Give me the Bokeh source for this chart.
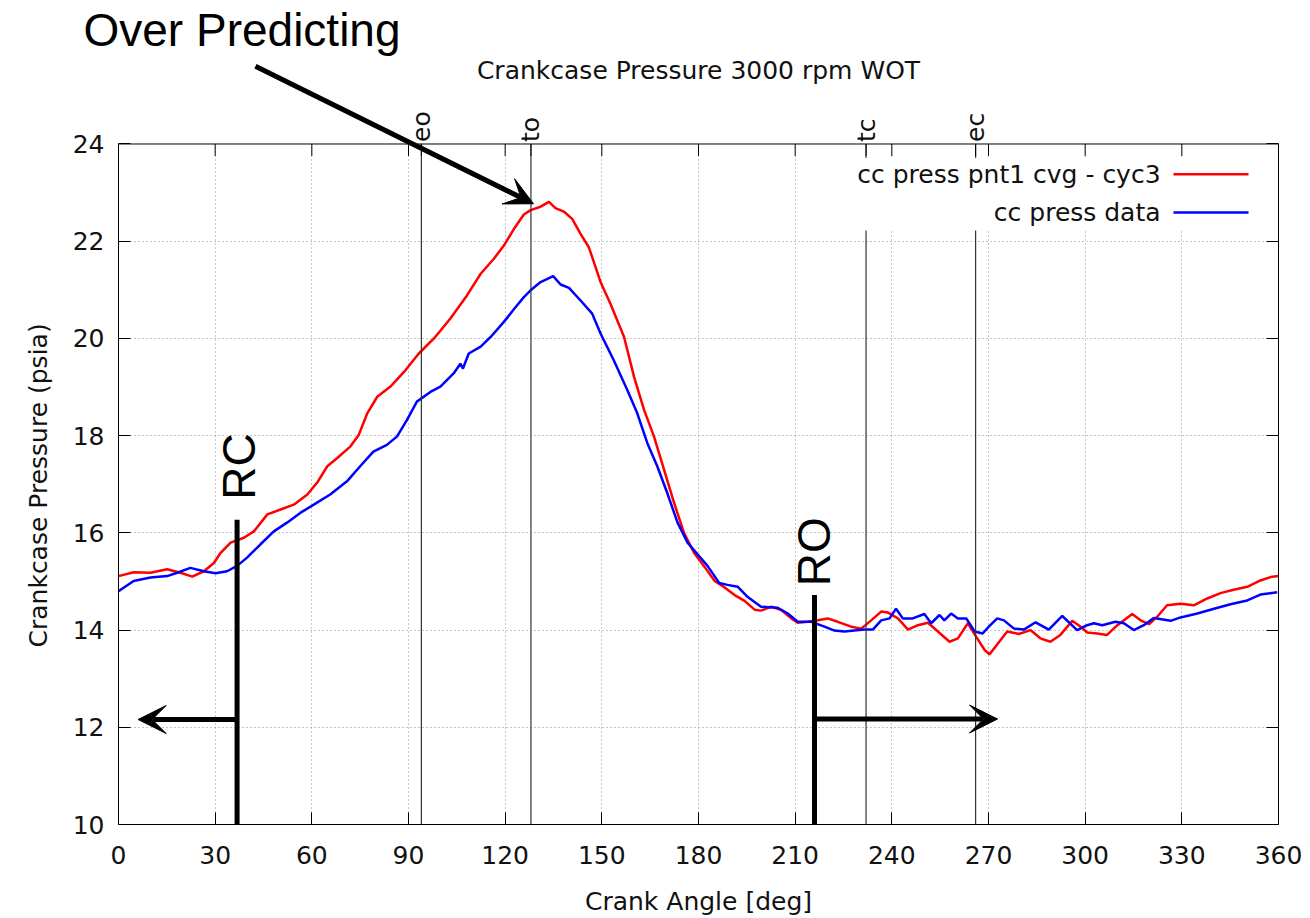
import math
from bokeh.plotting import figure
from bokeh.models import (Span, Label, Arrow, VeeHead, BoxAnnotation, LinearAxis,
                          FixedTicker, Range1d, Title)
from bokeh.core.properties import value
from bokeh.embed import file_html
from bokeh.resources import INLINE

# ---------------- data ----------------
model_angle = [0, 4.7, 9.9, 15.1, 19.2, 22.9, 26.5, 29.6, 31.7, 34.8,
               38.9, 42, 46.2, 50.3, 54.4, 58.6, 61.6, 64.8, 67.9, 72,
               74.6, 77.2, 80.3, 84.4, 88.6, 93.2, 97.9, 103, 108.2, 112.4,
               116.5, 119.6, 122.7, 125.8, 127.9, 131, 133.6, 135.6, 138.2, 140.8,
               143.4, 146, 148.6, 149.6, 152.7, 156.9, 160, 163.1, 166.2, 169.3,
               172.4, 175.5, 178.6, 181.9, 185, 188, 191.2, 194.3, 197.4, 199.4,
               202.6, 205.7, 208.8, 210.8, 213.9, 217, 220.1, 223.2, 227.4, 230.5,
               233.6, 236.7, 238.8, 241.9, 245, 248.1, 251.2, 254.3, 257.9, 260.5,
               263.6, 266.2, 268.8, 270.3, 272.2, 275.8, 279.4, 283, 286.1, 289.2,
               292.3, 296, 298.6, 300.6, 303.7, 306.8, 310, 314.6, 317.2, 319.8,
               322.3, 325.4, 329.6, 333.7, 337.9, 342, 346.1, 350.3, 354.4, 357.5,
               360]
model_press = [15.11, 15.19, 15.18, 15.25, 15.18, 15.10, 15.21, 15.38, 15.59, 15.80,
               15.90, 16.03, 16.38, 16.48, 16.58, 16.79, 17.03, 17.37, 17.54, 17.78,
               18.02, 18.46, 18.80, 19.01, 19.31, 19.69, 20.00, 20.41, 20.89, 21.33,
               21.64, 21.91, 22.25, 22.55, 22.64, 22.71, 22.81, 22.68, 22.61, 22.46,
               22.15, 21.87, 21.36, 21.16, 20.71, 20.03, 19.21, 18.53, 17.98, 17.30,
               16.62, 16.00, 15.59, 15.30, 15.01, 14.88, 14.72, 14.60, 14.42, 14.40,
               14.48, 14.41, 14.24, 14.15, 14.17, 14.20, 14.24, 14.17, 14.07, 14.03,
               14.20, 14.38, 14.36, 14.24, 14.01, 14.10, 14.15, 13.97, 13.76, 13.83,
               14.14, 13.86, 13.59, 13.50, 13.66, 13.97, 13.92, 14.00, 13.83, 13.76,
               13.90, 14.19, 14.07, 13.95, 13.93, 13.90, 14.10, 14.33, 14.20, 14.12,
               14.27, 14.51, 14.54, 14.51, 14.65, 14.76, 14.83, 14.89, 15.02, 15.09,
               15.11]

data_angle = [0, 4.7, 9.9, 15.1, 18.2, 22.3, 26.5, 30.1, 33.7, 36.8,
              39.9, 44, 48.2, 52.3, 56.4, 60.6, 65.7, 70.9, 75, 79.1,
              83.3, 86.4, 89.5, 92.6, 96.8, 99.9, 104, 106.1, 106.9, 108.7,
              112.4, 115.5, 119.6, 122.7, 125.8, 127.9, 131, 134.9, 137.2, 139.8,
              143.4, 147, 149.6, 153.7, 157.9, 161, 164.1, 167.2, 170.3, 173.5,
              176.6, 179.7, 182.8, 186.4, 189, 192.2, 195.3, 199.4, 204.6, 207.7,
              210.8, 215, 219.1, 222.2, 225.3, 228.4, 231.5, 234.1, 236.7, 239.3,
              241.3, 243.4, 246.5, 250.1, 252.2, 254.8, 256.3, 258.4, 260.5, 263.1,
              265.7, 268.2, 270.1, 272.7, 274.8, 277.9, 281, 284.6, 288.7, 292.9,
              297.5, 300.6, 302.7, 305.3, 309.4, 312, 315.1, 318.2, 321.3, 326.5,
              329.6, 334.8, 340, 345.1, 350.3, 354.4, 359.6]
data_press = [14.80, 15.01, 15.08, 15.11, 15.18, 15.28, 15.21, 15.17, 15.21, 15.32,
              15.49, 15.76, 16.03, 16.21, 16.41, 16.58, 16.79, 17.06, 17.37, 17.67,
              17.81, 17.98, 18.32, 18.70, 18.90, 19.01, 19.28, 19.48, 19.38, 19.69,
              19.83, 20.03, 20.34, 20.60, 20.85, 20.99, 21.16, 21.28, 21.11, 21.04,
              20.78, 20.51, 20.10, 19.55, 18.94, 18.46, 17.85, 17.37, 16.82, 16.21,
              15.80, 15.56, 15.32, 14.97, 14.93, 14.89, 14.68, 14.48, 14.46, 14.34,
              14.17, 14.17, 14.07, 13.99, 13.97, 13.99, 14.01, 14.01, 14.20, 14.24,
              14.44, 14.24, 14.24, 14.33, 14.14, 14.31, 14.20, 14.34, 14.24, 14.24,
              13.97, 13.93, 14.07, 14.24, 14.20, 14.03, 14.01, 14.16, 14.01, 14.29,
              14.00, 14.10, 14.14, 14.10, 14.17, 14.14, 14.00, 14.10, 14.25, 14.19,
              14.26, 14.34, 14.44, 14.53, 14.61, 14.73, 14.78]

x_ticks = [0, 30, 60, 90, 120, 150, 180, 210, 240, 270, 300, 330, 360]
y_ticks = [10, 12, 14, 16, 18, 20, 22, 24]
event_names = ["eo", "to", "tc", "ec"]
event_angles = [94, 128, 232, 266]
series_names = ["cc press pnt1 cvg - cyc3", "cc press data"]
series_colors = ["#ff0000", "#0000ff"]
chart_title = "Crankcase Pressure 3000 rpm WOT"

FONT = "DejaVu Sans"
ANN_FONT = "Liberation Sans"
FS = "25px"
ANN_FS = "46px"
X0, X1 = 0, 360
Y0, Y1 = 10, 24          # plotted pressure window
Y_TOP = 25.80            # frame extends above the plot box to hold the annotation arrow
PX_PER_PSI = 48.79
TICK = 12 / PX_PER_PSI

# ---------------- figure ----------------
p = figure(width=1310, height=918, x_range=Range1d(X0, X1), y_range=Range1d(Y0, Y_TOP),
           output_backend="svg", toolbar_location=None,
           min_border_left=118, min_border_right=32, min_border_top=55, min_border_bottom=92,
           x_axis_label="Crank Angle [deg]")
p.background_fill_color = "white"
p.border_fill_color = "white"
p.outline_line_alpha = 0

# "Over Predicting" callout sits above the frame, in the title slot
p.title.text = "Over Predicting"
p.title.align = "left"
p.title.offset = -35
p.title.standoff = 2
p.title.text_font = ANN_FONT
p.title.text_font_size = ANN_FS
p.title.text_font_style = "normal"
p.title.text_color = "black"

def style_axis(ax):
    ax.major_tick_in = 12
    ax.major_tick_out = 0
    ax.minor_tick_in = 0
    ax.minor_tick_out = 0
    ax.axis_line_color = "black"
    ax.major_tick_line_color = "black"
    ax.major_label_text_font = FONT
    ax.major_label_text_font_size = FS
    ax.major_label_text_color = "#111111"
    ax.axis_label_text_font = FONT
    ax.axis_label_text_font_size = FS
    ax.axis_label_text_font_style = "normal"
    ax.axis_label_text_color = "#111111"

xa = p.xaxis[0]
ya = p.yaxis[0]
style_axis(xa)
style_axis(ya)
xa.ticker = FixedTicker(ticks=x_ticks)
ya.ticker = FixedTicker(ticks=y_ticks)
ya.bounds = (Y0, Y1)
xa.major_label_standoff = 21
ya.major_label_standoff = 14
xa.axis_label_standoff = 20

ylab = Title(text="Crankcase Pressure (psia)", align="left", offset=177,
             vertical_align="top", standoff=29,
             text_font=FONT, text_font_size=FS, text_font_style="normal",
             text_color="#111111")
p.add_layout(ylab, "left")

p.xgrid.ticker = FixedTicker(ticks=x_ticks[1:-1])
p.ygrid.ticker = FixedTicker(ticks=y_ticks[1:-1])
for g in (p.xgrid[0], p.ygrid[0]):
    g.grid_line_color = "#8a8a8a"
    g.grid_line_dash = "1 3"
    g.grid_line_width = 1

# mirrored right axis
right = LinearAxis(ticker=FixedTicker(ticks=y_ticks), bounds=(Y0, Y1),
                   major_label_overrides={t: "" for t in y_ticks})
style_axis(right)
p.add_layout(right, "right")

# white area above the plot box (hides grid above 24)
p.add_layout(BoxAnnotation(left=X0, right=X1, bottom=Y1, top=Y_TOP, fill_color="white",
                           fill_alpha=1, line_alpha=0, level="underlay"))

# ---------------- curves ----------------
p.line(model_angle, model_press, line_color=series_colors[0], line_width=2.5)
p.line(data_angle, data_press, line_color=series_colors[1], line_width=2.5)

# event vertical lines
n_ev = len(event_angles)
p.segment(x0=event_angles, y0=[Y0] * n_ev, x1=event_angles, y1=[Y1] * n_ev,
          line_color="#333333", line_width=1.2)

# top border ticks (mirrored x ticks + event ticks) and event labels
top_ticks = x_ticks[1:-1] + event_angles
n_t = len(top_ticks)
p.segment(x0=top_ticks, y0=[Y1] * n_t, x1=top_ticks, y1=[Y1 - TICK] * n_t,
          line_color="black", line_width=1)
p.text(x=event_angles, y=[Y1 + 2 / PX_PER_PSI] * n_ev, text=event_names, angle=math.pi / 2,
       text_align="left", text_baseline="middle", text_font=value(FONT),
       text_font_size=FS, text_color="#111111")

# top border line
p.add_layout(Span(location=Y1, dimension="width", line_color="black", line_width=1))

# chart title
p.add_layout(Label(x=(X0 + X1) / 2, y=25.51, text=chart_title, text_align="center",
                   text_baseline="alphabetic", text_font=FONT, text_font_size=FS,
                   text_color="#111111"))

# legend (gnuplot style: label left of sample)
p.add_layout(BoxAnnotation(left=225.6, right=357.5, bottom=22.22, top=23.71,
                           fill_color="white", fill_alpha=1, line_alpha=0))
leg_y = [23.38, 22.59]
for name, col, yy in zip(series_names, series_colors, leg_y):
    p.add_layout(Label(x=323.4, y=yy, text=name, text_align="right", text_baseline="middle",
                       text_font=FONT, text_font_size=FS, text_color="#111111"))
    p.add_layout(Arrow(x_start=327.4, y_start=yy, x_end=350.7, y_end=yy, end=None,
                       line_color=col, line_width=2.5))

# ---------------- annotations ----------------
rc_angle, ro_angle = 36.8, 216.0
p.segment(x0=[rc_angle, ro_angle], y0=[16.27, 14.72], x1=[rc_angle, ro_angle], y1=[Y0, Y0],
          line_color="black", line_width=5)

def head():
    return VeeHead(size=28, fill_color="black", line_color="black", line_width=1)

p.add_layout(Arrow(x_start=rc_angle, y_start=12.16, x_end=6.1, y_end=12.16,
                   line_color="black", line_width=5, end=head()))
p.add_layout(Arrow(x_start=ro_angle, y_start=12.17, x_end=272.8, y_end=12.17,
                   line_color="black", line_width=5, end=head()))
p.add_layout(Arrow(x_start=42.5, y_start=25.6, x_end=128.8, y_end=22.77,
                   line_color="black", line_width=5, end=head()))

p.add_layout(Label(x=37.3, y=16.68, text="RC", angle=math.pi / 2, text_align="left",
                   text_baseline="alphabetic", text_font=ANN_FONT, text_font_size=ANN_FS,
                   text_color="black"))
p.add_layout(Label(x=215.7, y=14.9, text="RO", angle=math.pi / 2, text_align="left",
                   text_baseline="alphabetic", text_font=ANN_FONT, text_font_size=ANN_FS,
                   text_color="black"))

open("out.html", "w").write(file_html(p, INLINE))
